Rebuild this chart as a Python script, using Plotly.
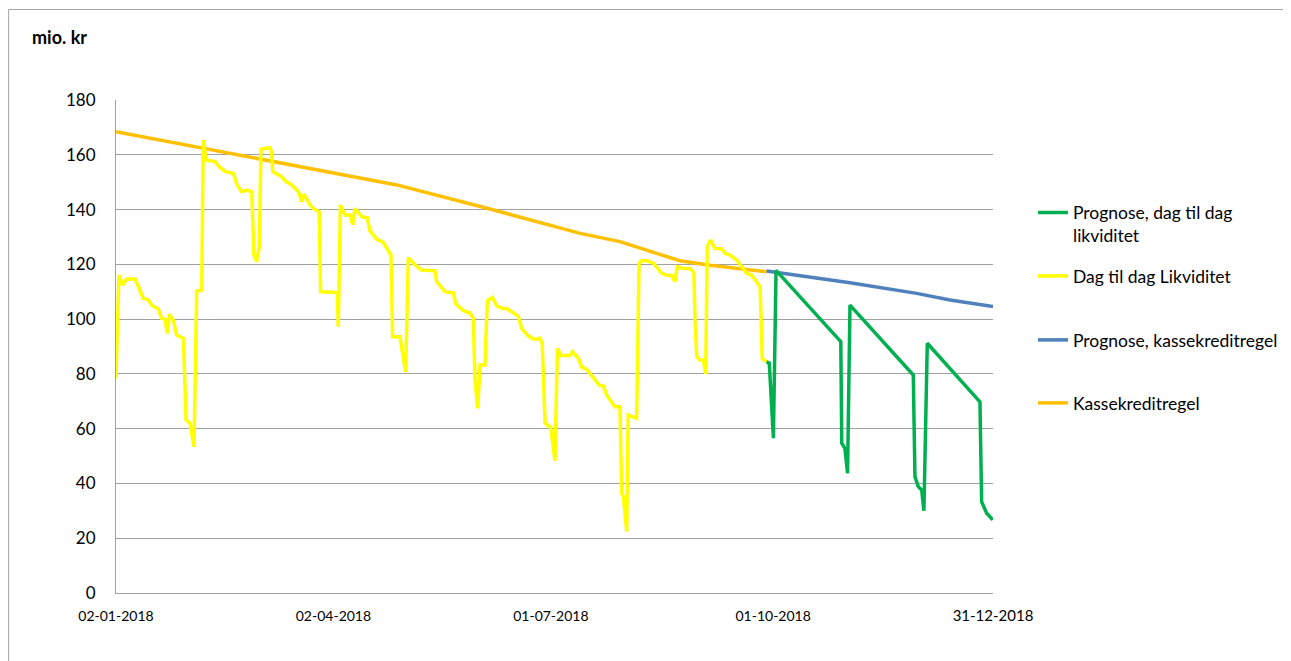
import numpy as np
import pandas as pd
import plotly.graph_objects as go

# ---------------- data (day offsets from 02-01-2018, values in mio. kr) ----------------
START = "2018-01-02"

yellow_day = [0, 1.2, 2.8, 4.4, 7.9, 11.3, 13.4, 14.8, 17.5, 18.9, 20.3, 21.2, 22.1, 23.7, 25.1,
              27.9, 29.0, 30.6, 32.3, 33.4, 35.5, 36.1, 37.3, 41.0, 43.0, 45.5, 48.6, 50.0, 52.0,
              54.1, 56.2, 57.1, 58.2, 59.3, 60.0, 63.7, 64.4, 64.9, 68.6, 70.0, 72.7, 75.5, 76.9,
              77.8, 80.3, 81.7, 84.1, 84.7, 89.9, 91.6, 92.0, 92.9, 94.8, 96.9, 98.0, 98.9, 101.7,
              104.0, 105.1, 107.9, 110.6, 112.1, 113.8, 114.5, 117.5, 119.9, 121.0, 123.8, 126.5,
              132.0, 132.7, 136.2, 139.6, 140.7, 143.8, 146.5, 147.9, 148.6, 149.7, 150.7, 152.7,
              153.7, 155.8, 157.6, 160.1, 161.7, 164.2, 166.5, 167.9, 170.7, 173.0, 175.5, 176.4,
              177.6, 179.9, 181.7, 182.7, 184.2, 187.9, 188.9, 191.4, 192.8, 194.8, 197.6, 200.0,
              201.7, 203.1, 205.2, 206.5, 208.6, 209.3, 210.0, 211.4, 212.0, 215.5, 216.5, 217.6,
              219.9, 222.4, 225.9, 227.9, 230.0, 231.4, 232.3, 234.8, 237.6, 239.2, 239.7, 240.4,
              241.7, 243.1, 244.1, 244.7, 246.1, 247.9, 250.7, 252.1, 254.1, 256.9, 259.0, 261.0,
              263.1, 264.5, 266.6, 267.5, 269.3]
yellow_val = [78.4, 116.1, 112.4, 114.6, 114.6, 107.6, 107.0, 105.1, 103.7, 100.3, 99.9, 94.8, 101.7,
              99.7, 94.2, 93.0, 63.2, 62.0, 53.4, 110.3, 110.6, 165.4, 158.1, 157.5, 155.4, 153.8,
              153.2, 149.2, 146.5, 147.1, 146.5, 123.4, 121.0, 126.4, 162.0, 162.6, 161.1, 153.8,
              152.0, 150.5, 149.0, 146.5, 142.9, 145.6, 141.7, 140.4, 139.2, 110.0, 109.8, 109.6,
              97.2, 141.7, 138.0, 138.0, 134.4, 140.4, 137.4, 137.0, 132.3, 129.2, 128.0, 125.8,
              123.4, 93.6, 93.6, 80.8, 122.4, 119.8, 117.9, 117.7, 113.7, 110.0, 109.6, 105.5,
              103.1, 102.3, 100.3, 77.8, 67.4, 83.2, 83.2, 106.7, 107.9, 104.8, 103.9, 103.9,
              102.3, 101.1, 96.6, 93.8, 92.6, 93.0, 91.2, 62.0, 60.5, 48.3, 89.3, 86.7, 86.7,
              88.1, 85.7, 82.4, 81.7, 78.8, 75.9, 75.6, 72.3, 69.6, 68.0, 68.0, 36.4, 35.2, 22.4,
              65.0, 63.8, 120.4, 121.3, 121.3, 120.4, 116.7, 116.0, 115.9, 113.7, 119.1, 118.5,
              118.5, 116.9, 98.5, 86.3, 85.1, 85.1, 80.0, 126.4, 128.9, 125.8, 125.6, 124.0,
              123.4, 121.6, 119.1, 116.7, 116.1, 114.3, 111.8, 85.7, 84.4]

green_day = [269.3, 270.4, 272.1, 273.2, 300.0, 300.4, 301.7, 302.8, 303.8, 330.0, 330.7, 332.1,
             333.5, 334.4, 335.8, 357.6, 358.3, 360.4, 362.9]
green_val = [84.4, 83.9, 56.5, 117.8, 91.8, 54.7, 52.8, 43.7, 105.1, 79.6, 42.5, 38.8,
             37.6, 30.0, 91.2, 69.8, 33.3, 29.1, 26.7]

blue_day = [269.3, 303.8, 331.4, 345.2, 363.0]
blue_val = [117.6, 113.3, 109.4, 107.0, 104.6]

orange_day = [0, 36.1, 88.6, 116.2, 154.8, 192.1, 208.6, 233.4, 245.9, 269.3]
orange_val = [168.4, 162.4, 153.5, 149.0, 140.2, 131.3, 128.3, 121.3, 119.7, 117.3]

x_tick_dates = ["2018-01-02", "2018-04-02", "2018-07-01", "2018-10-01", "2018-12-31"]
x_tick_text = ["02-01-2018", "02-04-2018", "01-07-2018", "01-10-2018",
               "<span style='font-size:15px'>31-12-2018</span>"]

names = {
    "green": "Prognose, dag til dag<br>likviditet",
    "yellow": "Dag til dag Likviditet",
    "blue": "Prognose, kassekreditregel",
    "orange": "Kassekreditregel",
}


def to_dates(days):
    return pd.Timestamp(START) + pd.to_timedelta(np.asarray(days, dtype=float), unit="D")


FONT = "Lato"
fig = go.Figure()

fig.add_trace(go.Scatter(x=to_dates(orange_day), y=orange_val, mode="lines",
                         name=names["orange"], line=dict(color="#FFC000", width=3.5),
                         legend="legend4"))
fig.add_trace(go.Scatter(x=to_dates(blue_day), y=blue_val, mode="lines",
                         name=names["blue"], line=dict(color="#4F81BD", width=3.5),
                         legend="legend3"))
fig.add_trace(go.Scatter(x=to_dates(yellow_day), y=yellow_val, mode="lines",
                         name=names["yellow"], line=dict(color="#FFFF00", width=3.5),
                         legend="legend2"))
fig.add_trace(go.Scatter(x=to_dates(green_day), y=green_val, mode="lines",
                         name=names["green"], line=dict(color="#00B050", width=3.5),
                         legend="legend"))

OFF = 8  # page body margin
W, H = 1291 - OFF, 661 - OFF
PL, PR, PT, PB = 116, 993, 100, 593  # plot area in page pixels
L, T = PL - OFF, PT - OFF
R = W - (PR - OFF)
B = H - (PB - OFF)
pw, ph = PR - PL, PB - PT


def px_x(x):
    return (x - PL) / pw


def px_y(y):
    return (PB - y) / ph


leg_common = dict(x=px_x(1033), xanchor="left", yanchor="middle", bgcolor="rgba(0,0,0,0)",
                  font=dict(family=FONT, size=17.5, color="#000000"), borderwidth=0,
                  valign="top")

fig.update_layout(
    width=W, height=H,
    margin=dict(l=L, r=R, t=T, b=B, autoexpand=False),
    paper_bgcolor="white", plot_bgcolor="white",
    showlegend=True,
    legend=dict(leg_common, y=px_y(224)),
    legend2=dict(leg_common, y=px_y(276)),
    legend3=dict(leg_common, y=px_y(340)),
    legend4=dict(leg_common, y=px_y(403)),
    xaxis=dict(type="date", range=["2018-01-02", "2018-12-31"],
               tickmode="array", tickvals=x_tick_dates, ticktext=x_tick_text,
               showgrid=False, showline=True, linecolor="#A0A0A0", linewidth=1,
               ticks="", tickfont=dict(family=FONT, size=14, color="#000000"),
               ticklabelstandoff=10, zeroline=False, automargin=False),
    yaxis=dict(range=[0, 180], tick0=0, dtick=20, showgrid=True, gridcolor="#A0A0A0",
               gridwidth=1, showline=True, linecolor="#A0A0A0", linewidth=1,
               ticks="", tickfont=dict(family=FONT, size=17, color="#000000"),
               ticklabelstandoff=16, zeroline=False, automargin=False),
    shapes=[dict(type="rect", xref="paper", yref="paper",
                 x0=px_x(8.6), x1=px_x(1320), y0=px_y(700), y1=px_y(9.5),
                 line=dict(color="#A6A6A6", width=1), fillcolor="rgba(0,0,0,0)",
                 layer="below")],
    annotations=[dict(text="<b>mio. kr</b>", xref="paper", yref="paper",
                      x=px_x(30), y=px_y(37), xanchor="left", yanchor="middle",
                      showarrow=False, font=dict(family=FONT, size=18, color="#000000"))],
)

fig.write_html("out.html")
